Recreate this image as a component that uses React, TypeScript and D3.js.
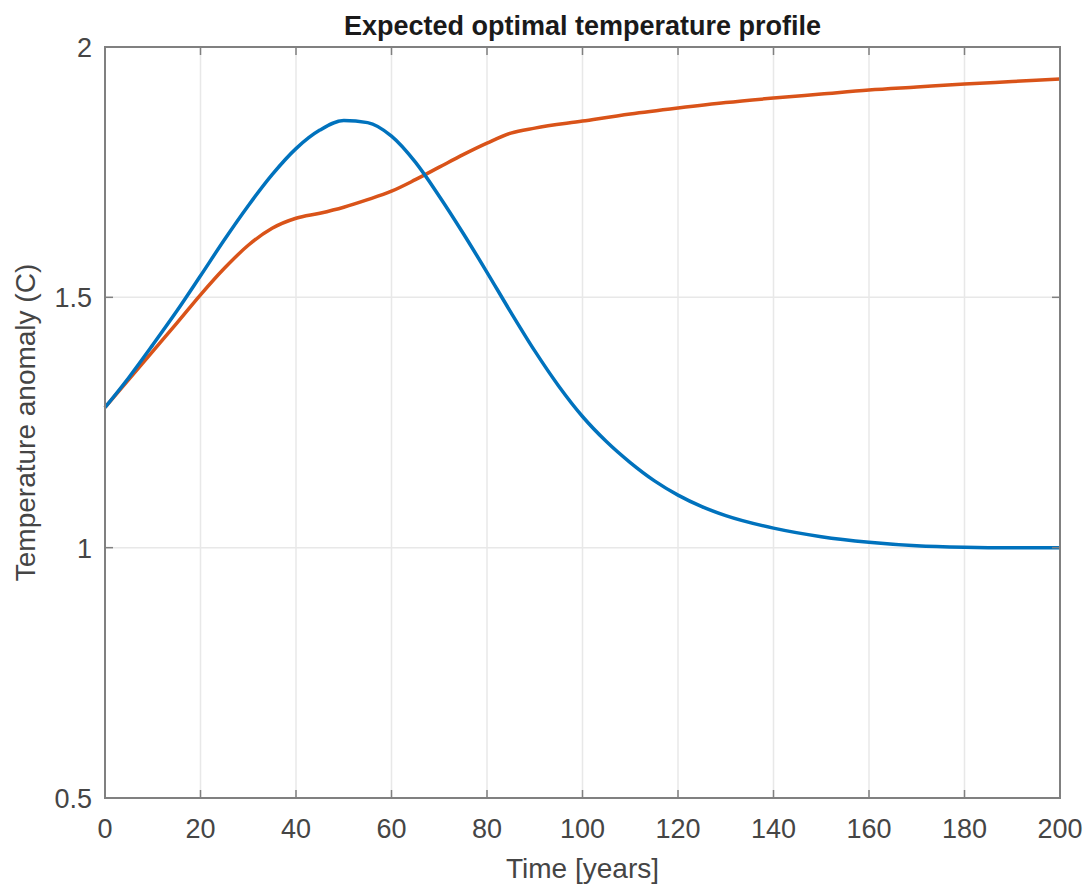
import React from "react";
import * as d3 from "d3";

const years = [0, 5, 10, 15, 20, 25, 30, 35, 40, 45, 50, 55, 60, 65, 70, 75, 80, 85, 90, 95, 100, 105, 110, 115, 120, 125, 130, 140, 150, 160, 170, 180, 190, 200];
const blueSeries = [1.28, 1.34, 1.405, 1.472, 1.543, 1.615, 1.683, 1.745, 1.797, 1.834, 1.853, 1.849, 1.822, 1.77, 1.702, 1.628, 1.55, 1.47, 1.393, 1.323, 1.262, 1.212, 1.17, 1.134, 1.105, 1.082, 1.064, 1.039, 1.022, 1.011, 1.004, 1.001, 1.0, 1.0];
const orangeYears = [0, 5, 10, 15, 20, 25, 30, 35, 40, 45, 50, 55, 60, 65, 70, 75, 80, 85, 90, 100, 110, 120, 130, 140, 150, 160, 170, 180, 190, 200];
const orangeSeries = [1.28, 1.336, 1.392, 1.448, 1.505, 1.558, 1.604, 1.638, 1.658, 1.668, 1.68, 1.695, 1.712, 1.735, 1.76, 1.785, 1.808, 1.828, 1.838, 1.852, 1.866, 1.878, 1.889, 1.898, 1.906, 1.914, 1.92, 1.926, 1.931, 1.936];
const xTicks = [0, 20, 40, 60, 80, 100, 120, 140, 160, 180, 200];
const yTicks = [0.5, 1, 1.5, 2];

export default function App() {
  const W = 1088, H = 888;
  const left = 105, right = 1060, top = 47, bottom = 798;
  const x = d3.scaleLinear().domain([0, 200]).range([left, right]);
  const y = d3.scaleLinear().domain([0.5, 2]).range([bottom, top]);
  const line = d3.line<[number, number]>().x(d => x(d[0])).y(d => y(d[1])).curve(d3.curveMonotoneX);
  const blue = line(years.map((t, i) => [t, blueSeries[i]]) as [number, number][]) || "";
  const orange = line(orangeYears.map((t, i) => [t, orangeSeries[i]]) as [number, number][]) || "";
  const font = "'Liberation Sans', Arial, Helvetica, sans-serif";
  const axisColor = "#808080";
  const textColor = "#454545";
  const tick = 8;
  return (
    <svg width={W} height={H} style={{ position: "absolute", left: 0, top: 0, background: "#fff" }}>
      <rect x={0} y={0} width={W} height={H} fill="#fff" />
      {xTicks.map(t => (
        <line key={"gx" + t} x1={x(t)} x2={x(t)} y1={top} y2={bottom} stroke="#e8e8e8" strokeWidth={1.5} />
      ))}
      {yTicks.map(t => (
        <line key={"gy" + t} x1={left} x2={right} y1={y(t)} y2={y(t)} stroke="#e8e8e8" strokeWidth={1.5} />
      ))}
      <path d={orange} fill="none" stroke="#D95319" strokeWidth={3.5} strokeLinejoin="round" />
      <path d={blue} fill="none" stroke="#0072BD" strokeWidth={3.5} strokeLinejoin="round" />
      <rect x={left} y={top} width={right - left} height={bottom - top} fill="none" stroke={axisColor} strokeWidth={2} />
      {xTicks.map(t => (
        <g key={"tx" + t}>
          <line x1={x(t)} x2={x(t)} y1={bottom} y2={bottom - tick} stroke={axisColor} strokeWidth={1.5} />
          <line x1={x(t)} x2={x(t)} y1={top} y2={top + tick} stroke={axisColor} strokeWidth={1.5} />
          <text x={x(t)} y={838} textAnchor="middle" fontFamily={font} fontSize={27} fill={textColor}>{t}</text>
        </g>
      ))}
      {yTicks.map(t => (
        <g key={"ty" + t}>
          <line x1={left} x2={left + tick} y1={y(t)} y2={y(t)} stroke={axisColor} strokeWidth={1.5} />
          <line x1={right} x2={right - tick} y1={y(t)} y2={y(t)} stroke={axisColor} strokeWidth={1.5} />
          <text x={92} y={y(t) + 10} textAnchor="end" fontFamily={font} fontSize={27} fill={textColor}>{t}</text>
        </g>
      ))}
      <text x={(left + right) / 2} y={35} textAnchor="middle" fontFamily={font} fontSize={27} fontWeight="bold" fill="#1a1a1a">Expected optimal temperature profile</text>
      <text x={(left + right) / 2} y={878} textAnchor="middle" fontFamily={font} fontSize={28} fill={textColor}>Time [years]</text>
      <text transform={`translate(35, ${(top + bottom) / 2}) rotate(-90)`} textAnchor="middle" fontFamily={font} fontSize={28} fill={textColor}>Temperature anomaly (C)</text>
    </svg>
  );
}
